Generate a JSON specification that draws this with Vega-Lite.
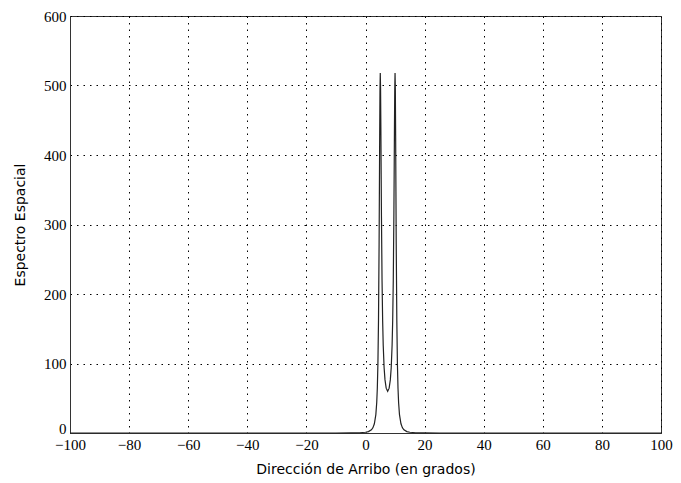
{
  "$schema": "https://vega.github.io/schema/vega-lite/v6.json",
  "width": 591,
  "height": 417,
  "autosize": "none",
  "padding": {"left": 70, "top": 16, "right": 20, "bottom": 50},
  "background": "white",
  "config": {
    "view": {"stroke": "#333", "strokeWidth": 1},
    "axis": {
      "labelFontSize": 15,
      "labelColor": "black",
      "titleFont": "DejaVu Sans",
      "titleFontSize": 14,
      "titleFontWeight": "normal",
      "titleColor": "black",
      "domainColor": "#333",
      "gridColor": "black",
      "gridDash": [1.5, 5],
      "gridOpacity": 1,
      "gridWidth": 1,
      "ticks": false,
      "labelPadding": 4,
      "labelFlush": false
    }
  },
  "data": {
    "values": [
      {"x": -100, "y": 0},
      {"x": -60, "y": 0},
      {"x": -20, "y": 0.01},
      {"x": -10, "y": 0.03},
      {"x": -5, "y": 0.12},
      {"x": -2, "y": 0.38},
      {"x": 0, "y": 1.06},
      {"x": 1, "y": 2.04},
      {"x": 2, "y": 4.56},
      {"x": 2.5, "y": 7.43},
      {"x": 3, "y": 13.2},
      {"x": 3.5, "y": 26.5},
      {"x": 3.8, "y": 43.9},
      {"x": 4.0, "y": 64.5},
      {"x": 4.2, "y": 99.5},
      {"x": 4.4, "y": 161.7},
      {"x": 4.6, "y": 271},
      {"x": 4.7, "y": 347},
      {"x": 4.8, "y": 428},
      {"x": 4.9, "y": 493},
      {"x": 5.0, "y": 518},
      {"x": 5.1, "y": 495},
      {"x": 5.2, "y": 439},
      {"x": 5.3, "y": 373},
      {"x": 5.4, "y": 312},
      {"x": 5.6, "y": 219},
      {"x": 5.8, "y": 162},
      {"x": 6.0, "y": 126},
      {"x": 6.3, "y": 93.9},
      {"x": 6.6, "y": 76.4},
      {"x": 7.0, "y": 64.5},
      {"x": 7.5, "y": 60.0},
      {"x": 8.0, "y": 64.5},
      {"x": 8.4, "y": 76.4},
      {"x": 8.7, "y": 93.9},
      {"x": 9.0, "y": 126},
      {"x": 9.2, "y": 162},
      {"x": 9.4, "y": 219},
      {"x": 9.6, "y": 312},
      {"x": 9.7, "y": 373},
      {"x": 9.8, "y": 439},
      {"x": 9.9, "y": 495},
      {"x": 10.0, "y": 518},
      {"x": 10.1, "y": 493},
      {"x": 10.2, "y": 428},
      {"x": 10.3, "y": 347},
      {"x": 10.4, "y": 271},
      {"x": 10.6, "y": 161.7},
      {"x": 10.8, "y": 99.5},
      {"x": 11.0, "y": 64.5},
      {"x": 11.2, "y": 43.9},
      {"x": 11.5, "y": 26.5},
      {"x": 12.0, "y": 13.2},
      {"x": 12.5, "y": 7.43},
      {"x": 13.0, "y": 4.56},
      {"x": 14.0, "y": 2.04},
      {"x": 15.0, "y": 1.06},
      {"x": 17.0, "y": 0.38},
      {"x": 20.0, "y": 0.12},
      {"x": 25.0, "y": 0.03},
      {"x": 40.0, "y": 0.003},
      {"x": 60.0, "y": 0},
      {"x": 100.0, "y": 0}
    ]
  },
  "mark": {"type": "line", "color": "#222", "strokeWidth": 1.2, "interpolate": "linear"},
  "encoding": {
    "x": {
      "field": "x",
      "type": "quantitative",
      "scale": {"domain": [-100, 100], "nice": false},
      "axis": {
        "title": "Dirección de Arribo (en grados)",
        "values": [-100, -80, -60, -40, -20, 0, 20, 40, 60, 80, 100],
        "labelExpr": "replace(datum.label, '-', '−')",
        "labelFont": "serif",
        "labelFlush": false,
        "titlePadding": 10
      }
    },
    "y": {
      "field": "y",
      "type": "quantitative",
      "scale": {"domain": [0, 600], "nice": false},
      "axis": {
        "title": "Espectro Espacial",
        "values": [0, 100, 200, 300, 400, 500, 600],
        "labelFont": "serif",
        "labelOffset": {"condition": {"test": "datum.value === 0", "value": -5}, "value": 0},
        "titlePadding": 16
      }
    }
  }
}
